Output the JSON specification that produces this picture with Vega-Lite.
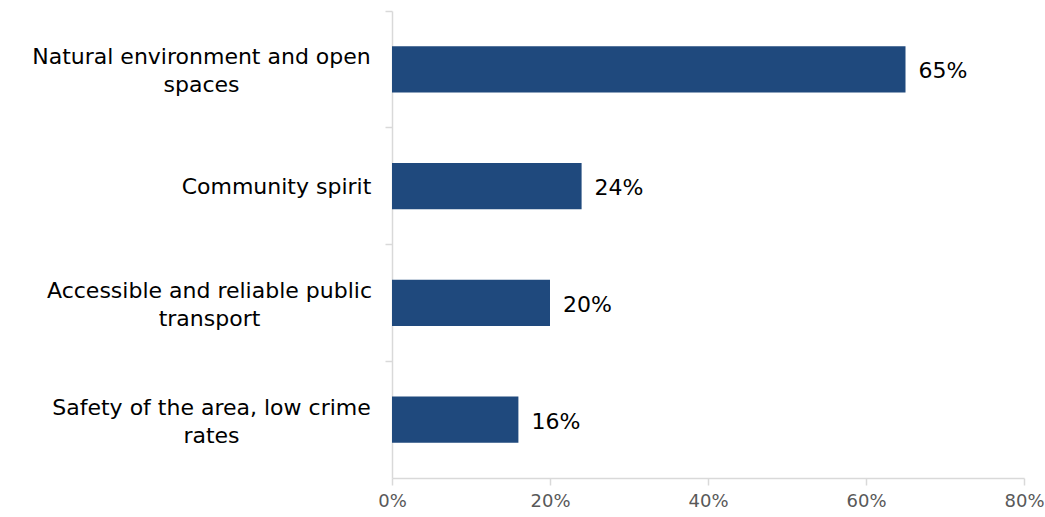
{
  "$schema": "https://vega.github.io/schema/vega-lite/v6.json",
  "autosize": "none",
  "width": 632,
  "height": 467,
  "padding": {"left": 392, "top": 11, "right": 21, "bottom": 39},
  "background": "white",
  "config": {"view": {"stroke": null}, "font": "DejaVu Sans"},
  "data": {"values": [
    {"category": "Natural environment and open spaces", "value": 0.65},
    {"category": "Community spirit", "value": 0.24},
    {"category": "Accessible and reliable public transport", "value": 0.20},
    {"category": "Safety of the area, low crime rates", "value": 0.16}
  ]},
  "encoding": {
    "y": {
      "field": "category", "type": "nominal", "sort": null,
      "scale": {"paddingInner": 0, "paddingOuter": 0},
      "axis": {
        "title": null,
        "bandPosition": 0,
        "domainColor": "#D9D9D9", "domainWidth": 1.5,
        "tickColor": "#D9D9D9", "tickWidth": 1.5, "tickSize": 7,
        "labelFont": "DejaVu Sans", "labelFontSize": 22, "labelColor": "#000000",
        "labelAlign": "center", "labelBaseline": "middle",
        "labelLineHeight": 28,
        "labelBound": false, "labelOverlap": false, "labelLimit": 0,
        "labelOffset": {"expr": "datum.value == 'Community spirit' ? 1 : -12"},
        "labelPadding": {"expr": "datum.value == 'Community spirit' ? 109 : datum.value == 'Natural environment and open spaces' ? 184 : datum.value == 'Accessible and reliable public transport' ? 176 : 174"},
        "labelExpr": "datum.value == 'Natural environment and open spaces' ? ['Natural environment and open', 'spaces'] : datum.value == 'Accessible and reliable public transport' ? ['Accessible and reliable public', 'transport'] : datum.value == 'Safety of the area, low crime rates' ? ['Safety of the area, low crime', 'rates'] : datum.value"
      }
    },
    "x": {
      "field": "value", "type": "quantitative",
      "scale": {"domain": [0, 0.8], "nice": false},
      "axis": {
        "title": null, "format": ".0%", "values": [0, 0.2, 0.4, 0.6, 0.8],
        "grid": false,
        "domainColor": "#D9D9D9", "domainWidth": 1.5,
        "tickColor": "#D9D9D9", "tickWidth": 1.5, "tickSize": 7,
        "labelFont": "DejaVu Sans", "labelFontSize": 18, "labelColor": "#595959",
        "labelPadding": 7, "labelFlush": false
      }
    }
  },
  "layer": [
    {"mark": {"type": "bar", "color": "#1F497D", "height": {"band": 0.395}}},
    {"mark": {"type": "text", "align": "left", "baseline": "middle", "dx": 13, "dy": 2, "fontSize": 22, "color": "#000000", "font": "DejaVu Sans"},
     "encoding": {"text": {"field": "value", "type": "quantitative", "format": ".0%"}}}
  ]
}
